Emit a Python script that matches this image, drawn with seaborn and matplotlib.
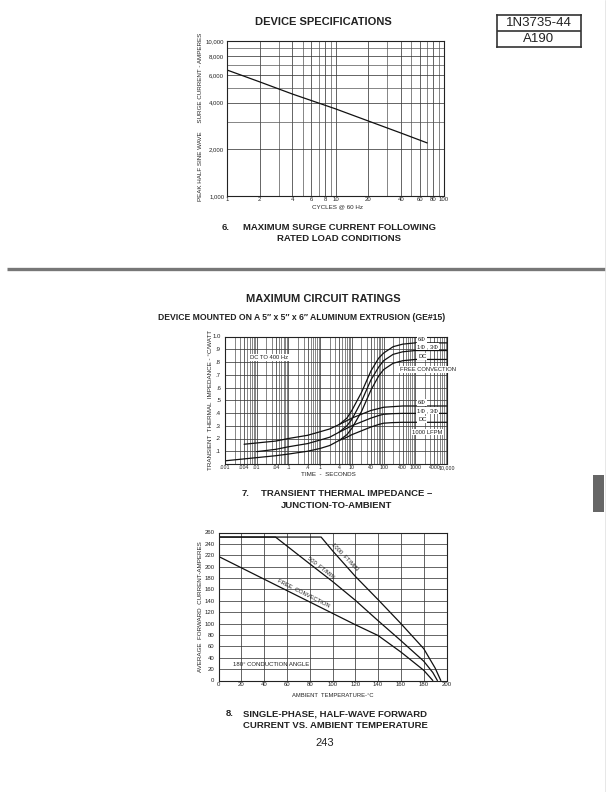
import numpy as np
import matplotlib
matplotlib.use('Agg')
import matplotlib.pyplot as plt
import seaborn as sns

W, H = 612, 792

# --- chart 6: surge current vs cycles
cycles = [1, 2, 4, 10, 20, 40, 70]
surge = [6500, 5450, 4550, 3650, 3050, 2550, 2200]

# --- chart 7: transient thermal impedance (time in s, Z in C/W)
t_low_6 = [0.004, 0.01, 0.04, 0.1, 0.4, 1, 2, 4]
z_low_6 = [0.155, 0.165, 0.18, 0.20, 0.225, 0.253, 0.275, 0.31]
t_low_13 = [0.01, 0.04, 0.1, 0.4, 1, 2, 4]
z_low_13 = [0.097, 0.115, 0.135, 0.16, 0.188, 0.21, 0.25]
t_low_dc = [0.001, 0.004, 0.01, 0.04, 0.1, 0.4, 1, 2, 4]
z_low_dc = [0.025, 0.04, 0.05, 0.065, 0.078, 0.10, 0.122, 0.145, 0.185]

t_high = [4, 7, 10, 20, 40, 70, 100, 200, 400, 1000, 10000]
z_free_6 = [0.31, 0.36, 0.42, 0.56, 0.73, 0.83, 0.87, 0.92, 0.94, 0.95, 0.95]
z_free_13 = [0.25, 0.30, 0.35, 0.49, 0.66, 0.76, 0.81, 0.86, 0.88, 0.89, 0.89]
z_free_dc = [0.185, 0.23, 0.28, 0.41, 0.58, 0.69, 0.74, 0.79, 0.81, 0.82, 0.82]
z_lfpm_6 = [0.31, 0.34, 0.36, 0.39, 0.42, 0.435, 0.445, 0.45, 0.455, 0.455, 0.455]
z_lfpm_13 = [0.25, 0.28, 0.30, 0.33, 0.36, 0.38, 0.39, 0.395, 0.397, 0.397, 0.397]
z_lfpm_dc = [0.185, 0.21, 0.23, 0.26, 0.29, 0.31, 0.32, 0.325, 0.327, 0.327, 0.327]

# --- chart 8: forward current vs ambient temperature
temp_1000 = [0, 90, 100, 120, 140, 160, 180, 190, 195]
amp_1000 = [252, 252, 228, 183, 142, 100, 56, 22, 0]
temp_500 = [0, 50, 80, 100, 120, 140, 160, 180, 188, 192]
amp_500 = [252, 252, 205, 174, 141, 105, 70, 34, 14, 0]
temp_free = [0, 20, 40, 60, 80, 100, 120, 140, 160, 170, 180, 188]
amp_free = [218, 198, 178, 158, 138, 118, 98, 79, 50, 34, 18, 0]

sns.set_style('white')
plt.rcParams['font.family'] = ['Liberation Sans', 'DejaVu Sans']

fig = plt.figure(figsize=(W / 100, H / 100), dpi=100)


def axes_px(l, t, r, b):
    return fig.add_axes([l / W, 1 - b / H, (r - l) / W, (b - t) / H])


def text_px(x, y, s, **kw):
    fig.text(x / W, 1 - y / H, s, **kw)


def style_axes(ax, pad_x=1.0, pad_y=2.0):
    ax.tick_params(which='both', length=0, labelsize=4.3, colors='#222222')
    ax.tick_params(axis='x', pad=pad_x)
    ax.tick_params(axis='y', pad=pad_y)
    ax.grid(True, which='major', color='#3a3a3a', lw=0.55)
    ax.grid(True, which='minor', color='#555555', lw=0.5)
    for sp in ax.spines.values():
        sp.set_color('#222222')
        sp.set_linewidth(0.8)
    ax.set_xlabel('')
    ax.set_ylabel('')


line_kw = dict(color='#111111', lw=0.9)

# ---------------- chart 6
ax1 = axes_px(227, 41, 444, 196)
sns.lineplot(x=cycles, y=surge, ax=ax1, **line_kw)
ax1.set_xscale('log')
ax1.set_yscale('log')
ax1.set_xlim(1, 100)
ax1.set_ylim(1000, 10000)
ax1.set_xticks([1, 2, 4, 6, 8, 10, 20, 40, 60, 80, 100])
ax1.set_xticklabels(['1', '2', '4', '6', '8', '10', '20', '40', '60', '80', '100'])
ax1.set_xticks([3, 5, 7, 9, 30, 50, 70, 90], minor=True)
ax1.set_yticks([1000, 2000, 4000, 6000, 8000, 10000])
ax1.set_yticklabels(['1,000', '2,000', '4,000', '6,000', '8,000', '10,000'])
ax1.set_yticks([3000, 5000, 7000, 9000], minor=True)
ax1.xaxis.set_minor_formatter(matplotlib.ticker.NullFormatter())
ax1.yaxis.set_minor_formatter(matplotlib.ticker.NullFormatter())
style_axes(ax1)

text_px(338, 207, 'CYCLES @ 60 Hz', fontsize=4.5, ha='center', va='center')
text_px(201, 117, 'PEAK HALF SINE WAVE     SURGE CURRENT - AMPERES',
        fontsize=4.5, rotation=90, ha='center', va='center')

text_px(323, 22, 'DEVICE SPECIFICATIONS', fontsize=8, fontweight='bold',
        ha='center', va='center', color='#222222')
text_px(222, 227, '6.', fontsize=6.8, fontweight='bold', ha='left', va='center', color='#222222')
text_px(243, 227, 'MAXIMUM SURGE CURRENT FOLLOWING', fontsize=6.8, fontweight='bold',
        ha='left', va='center', color='#222222')
text_px(339, 238.5, 'RATED LOAD CONDITIONS', fontsize=6.8, fontweight='bold',
        ha='center', va='center', color='#222222')

# part number box
box = fig.add_axes([497 / W, 1 - 46.5 / H, 83.5 / W, 31.5 / H])
box.set_xlim(0, 1)
box.set_ylim(0, 1)
box.set_xticks([])
box.set_yticks([])
for sp in box.spines.values():
    sp.set_linewidth(1.2)
    sp.set_color('#333333')
box.axhline(0.5, color='#333333', lw=1.2)
box.text(0.5, 0.75, '1N3735-44', fontsize=9.5, ha='center', va='center', color='#222222')
box.text(0.5, 0.25, 'A190', fontsize=9.5, ha='center', va='center', color='#222222')

# separator
sep = fig.add_axes([0, 0, 1, 1], facecolor='none')
sep.set_xlim(0, W)
sep.set_ylim(H, 0)
sep.axis('off')
sep.plot([7, 605], [268.5, 268.5], color='#777777', lw=2.4, solid_capstyle='butt')
sep.add_patch(plt.Rectangle((593, 475), 11, 37, color='#666666', lw=0))
sep.plot([604.5, 604.5], [0, H], color='#dddddd', lw=0.5)

# ---------------- chart 7
text_px(323.5, 299, 'MAXIMUM CIRCUIT RATINGS', fontsize=8, fontweight='bold',
        ha='center', va='center', color='#222222')
text_px(302, 317, 'DEVICE MOUNTED ON A 5\u2033 x 5\u2033 x 6\u2033 ALUMINUM EXTRUSION (GE#15)',
        fontsize=6.2, fontweight='bold', ha='center', va='center', color='#222222')

ax2 = axes_px(225, 336.5, 447, 464)
for tt, zz in [(t_low_6, z_low_6), (t_low_13, z_low_13), (t_low_dc, z_low_dc)]:
    sns.lineplot(x=tt, y=zz, ax=ax2, **line_kw)
for zz in [z_free_6, z_free_13, z_free_dc, z_lfpm_6, z_lfpm_13, z_lfpm_dc]:
    sns.lineplot(x=t_high, y=zz, ax=ax2, **line_kw)
ax2.set_xscale('log')
ax2.set_xlim(0.001, 10000)
ax2.set_ylim(0, 1.0)
xmaj = [0.001, 0.004, 0.01, 0.04, 0.1, 0.4, 1, 4, 10, 40, 100, 400, 1000, 4000, 10000]
ax2.set_xticks(xmaj)
ax2.set_xticklabels(['.001', '.004', '.01', '.04', '.1', '.4', '1', '4', '10', '40',
                     '100', '400', '1000', '4000', '10,000'])
xmin = [m * 10.0 ** e for e in range(-3, 4) for m in (2, 3, 5, 6, 7, 8, 9)]
ax2.set_xticks(xmin, minor=True)
ax2.xaxis.set_minor_formatter(matplotlib.ticker.NullFormatter())
ax2.set_yticks([0.1 * i for i in range(1, 11)])
ax2.set_yticklabels(['.1', '.2', '.3', '.4', '.5', '.6', '.7', '.8', '.9', '1.0'])
style_axes(ax2, pad_y=3)
ax2.tick_params(axis='x', labelsize=3.8)

lab_kw = dict(fontsize=4.2, va='center', color='#222222',
              bbox=dict(facecolor='white', edgecolor='none', pad=0.6))
ax2.text(0.0062, 0.834, 'DC TO 400 Hz', ha='left', **lab_kw)
ax2.text(1230, 0.975, '6\u03a6', ha='left', **lab_kw)
ax2.text(1150, 0.92, '1\u03a6 , 3\u03a6', ha='left', **lab_kw)
ax2.text(1230, 0.845, 'DC', ha='left', **lab_kw)
ax2.text(330, 0.74, 'FREE CONVECTION', ha='left', **lab_kw)
ax2.text(1230, 0.48, '6\u03a6', ha='left', **lab_kw)
ax2.text(1150, 0.42, '1\u03a6 , 3\u03a6', ha='left', **lab_kw)
ax2.text(1230, 0.35, 'DC', ha='left', **lab_kw)
ax2.text(780, 0.25, '1000 LFPM', ha='left', **lab_kw)

text_px(328, 474.5, 'TIME  -  SECONDS', fontsize=4.5, ha='center', va='center')
text_px(211, 400, 'TRANSIENT  THERMAL  IMPEDANCE - \u00b0C/WATT',
        fontsize=4.5, rotation=90, ha='center', va='center')

text_px(242, 493.5, '7.', fontsize=6.8, fontweight='bold', ha='left', va='center', color='#222222')
text_px(261, 493.5, 'TRANSIENT THERMAL IMPEDANCE \u2013', fontsize=6.8, fontweight='bold',
        ha='left', va='center', color='#222222')
text_px(337, 505, 'JUNCTION-TO-AMBIENT', fontsize=6.8, fontweight='bold',
        ha='center', va='center', color='#222222')

# ---------------- chart 8
ax3 = axes_px(218.5, 532.5, 446.5, 680.5)
sns.lineplot(x=temp_1000, y=amp_1000, ax=ax3, **line_kw)
sns.lineplot(x=temp_500, y=amp_500, ax=ax3, **line_kw)
sns.lineplot(x=temp_free, y=amp_free, ax=ax3, **line_kw)
ax3.set_xlim(0, 200)
ax3.set_ylim(0, 260)
ax3.set_xticks(np.arange(0, 201, 20))
ax3.set_yticks(np.arange(0, 261, 20))
style_axes(ax3, pad_y=3)

rot_kw = dict(fontsize=4.2, ha='center', va='center', color='#222222', rotation_mode='anchor')
ax3.text(111, 217, '1000  FT/MIN', rotation=-46, **rot_kw)
ax3.text(89.5, 198, '500  FT/MIN', rotation=-38, **rot_kw)
ax3.text(74.6, 153, 'FREE  CONVECTION', rotation=-26.5, **rot_kw)
ax3.text(13, 28, '180\u00b0 CONDUCTION ANGLE', fontsize=4.3, ha='left', va='center', color='#222222')

text_px(333, 695.5, 'AMBIENT  TEMPERATURE-\u00b0C', fontsize=4.2, ha='center', va='center')
text_px(200, 607, 'AVERAGE  FORWARD  CURRENT-AMPERES',
        fontsize=4.5, rotation=90, ha='center', va='center')

text_px(226, 714, '8.', fontsize=6.8, fontweight='bold', ha='left', va='center', color='#222222')
text_px(243.5, 714, 'SINGLE-PHASE, HALF-WAVE FORWARD', fontsize=6.8, fontweight='bold',
        ha='left', va='center', color='#222222')
text_px(243.5, 726, 'CURRENT VS. AMBIENT TEMPERATURE', fontsize=6.8, fontweight='bold',
        ha='left', va='center', color='#222222')
text_px(325, 743.5, '243', fontsize=8, ha='center', va='center', color='#222222')

fig.savefig('out.png', dpi=100, facecolor='white')
